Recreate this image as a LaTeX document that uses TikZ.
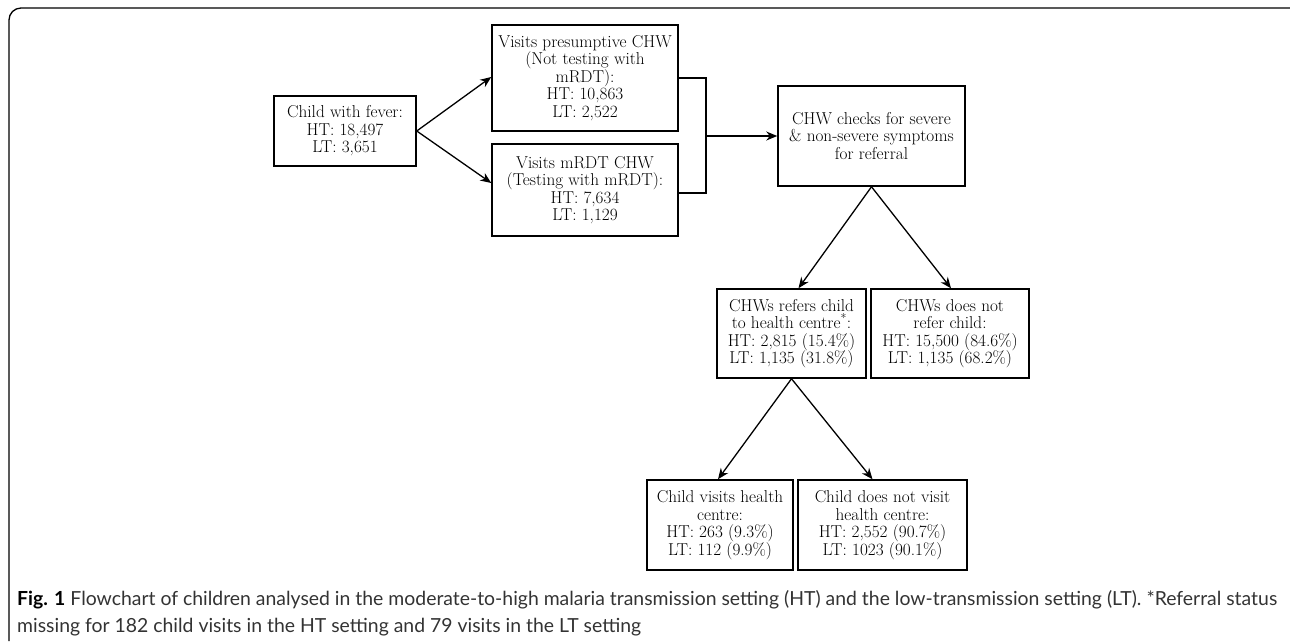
\documentclass[tikz,border=0pt]{standalone}
\usepackage{fontspec}
\newfontfamily\capfont{Lato}
\usetikzlibrary{arrows.meta,calc}
\begin{document}
\begin{tikzpicture}[x=1pt,y=-1pt,
  box/.style={draw,line width=1.5pt,align=center,inner sep=0pt,font=\fontsize{17.2}{17.5}\selectfont},
  arr/.style={line width=1.3pt,-{Stealth[length=11pt,width=9pt]}},
  conn/.style={line width=1.3pt}]
\useasboundingbox (0,0) rectangle (1290,641);
\draw[line width=1.3pt,rounded corners=12pt] (9,641) -- (9,8) -- (1290,8);
\node[box,minimum width=142pt,minimum height=70pt] (fever) at (345,131) {Child with fever:\\HT: 18,497\\LT: 3,651};
\node[box,minimum width=186pt,minimum height=106pt] (pres) at (585,78) {Visits presumptive CHW\\(Not testing with\\mRDT):\\HT: 10,863\\LT: 2,522};
\node[box,minimum width=186pt,minimum height=92pt] (mrdt) at (585,190) {Visits mRDT CHW\\(Testing with mRDT):\\HT: 7,634\\LT: 1,129};
\node[box,minimum width=187pt,minimum height=100pt] (chw) at (871.5,136) {CHW checks for severe\\\& non-severe symptoms\\for referral};
\node[box,minimum width=149pt,minimum height=89pt] (refer) at (791.5,333.5) {CHWs refers child\\to health centre\textsuperscript{*}:\\HT: 2,815 (15.4\%)\\LT: 1,135 (31.8\%)};
\node[box,minimum width=158pt,minimum height=89pt] (noref) at (950,333.5) {CHWs does not\\refer child:\\HT: 15,500 (84.6\%)\\LT: 1,135 (68.2\%)};
\node[box,minimum width=146pt,minimum height=90pt] (visit) at (720,525) {Child visits health\\centre:\\HT: 263 (9.3\%)\\LT: 112 (9.9\%)};
\node[box,minimum width=169pt,minimum height=90pt] (novisit) at (882.5,525) {Child does not visit\\health centre:\\HT: 2,552 (90.7\%)\\LT: 1023 (90.1\%)};
\draw[arr] (fever.east) -- ([yshift=1pt]pres.west);
\draw[arr] (fever.east) -- ([yshift=7pt]mrdt.west);
\coordinate (bj) at (706,136);
\draw[conn] (pres.east) -| (bj) |- ([yshift=-3pt]mrdt.east);
\draw[arr] (bj) -- (chw.west);
\draw[arr] (chw.south) -- ([xshift=7pt]refer.north);
\draw[arr] (chw.south) -- ([xshift=1pt]noref.north);
\draw[arr] (refer.south) -- ([xshift=-2pt]visit.north);
\draw[arr] (refer.south) -- ([xshift=-10pt]novisit.north);
\node[anchor=north west,align=left,inner sep=0pt,text=black!80,font=\capfont\fontsize{19.4}{27}\selectfont] (cap) at (17,590)
 {{\bfseries\color{black}Fig. 1} Flowchart of children analysed in the moderate-to-high malaria transmission setting (HT) and the low-transmission setting (LT). *Referral status\\missing for 182 child visits in the HT setting and 79 visits in the LT setting};
\end{tikzpicture}
\end{document}
